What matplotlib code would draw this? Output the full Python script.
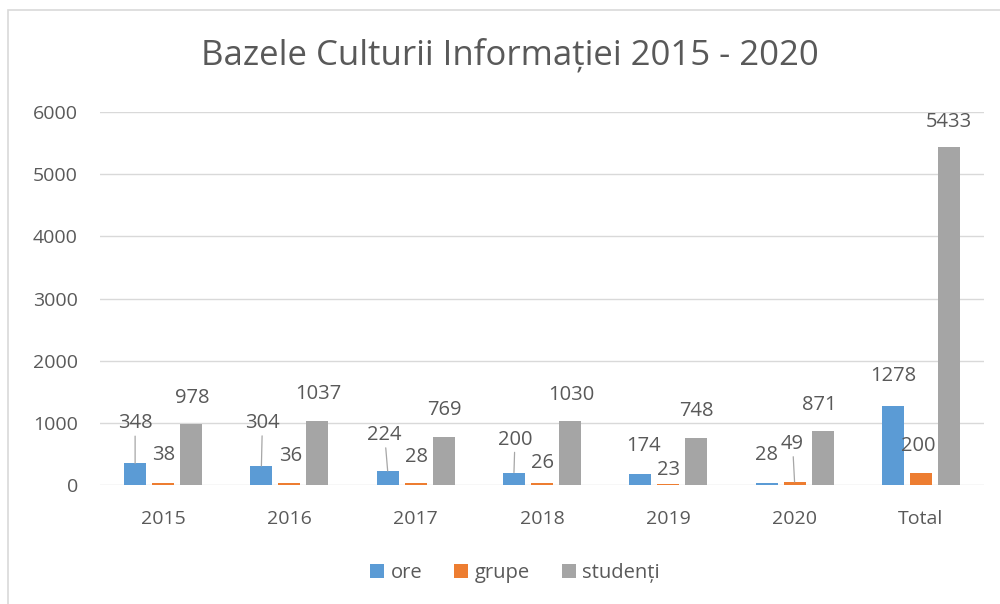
import numpy as np
import matplotlib.pyplot as plt
from matplotlib.patches import Rectangle

plt.rcParams['font.family'] = ['Open Sans', 'DejaVu Sans']

categories = ['2015', '2016', '2017', '2018', '2019', '2020', 'Total']
ore = [348, 304, 224, 200, 174, 28, 1278]
grupe = [38, 36, 28, 26, 23, 49, 200]
studenti = [978, 1037, 769, 1030, 748, 871, 5433]

series = [('ore', ore, '#5B9BD5'),
          ('grupe', grupe, '#ED7D31'),
          ('studenți', studenti, '#A5A5A5')]

# label offsets (pixels) from bar top, as placed in the original
label_offsets = {
    'ore': [(0, 40), (1, 43), (-3, 36), (1, 33), (3, 28), (0, 28), (0, 30)],
    'grupe': [(0, 28), (1, 27), (1, 26), (1, 20), (0, 14), (-2, 38), (-3, 27)],
    'studenți': [(1, 26), (1, 27), (1, 27), (1, 26), (0, 27), (-3, 26), (0, 25)],
}
leaders = {('ore', 0), ('ore', 1), ('ore', 2), ('ore', 3), ('grupe', 5)}

text_color = '#595959'
fig = plt.figure(figsize=(10, 6.04), dpi=100)
fig.patch.set_facecolor('white')
fig.patches.append(Rectangle((0.008, -0.1), 1.2, 1.1 - 10 / 604, transform=fig.transFigure,
                             fill=False, edgecolor='#D9D9D9', lw=1.2))

ax = fig.add_axes([0.100, 1 - 485 / 604, 0.884, (485 - 112) / 604])
x = np.arange(len(categories))
width = 0.174
step = 0.222

for i, (name, vals, color) in enumerate(series):
    pos = x + (i - 1) * step
    ax.bar(pos, vals, width, color=color, label=name, zorder=3)
    for j, (px, v) in enumerate(zip(pos, vals)):
        dx, dy = label_offsets[name][j]
        kw = {}
        if (name, j) in leaders:
            kw['arrowprops'] = dict(arrowstyle='-', color='#A6A6A6', lw=0.9,
                                    shrinkA=0, shrinkB=0)
        ax.annotate(str(v), xy=(px, v), xytext=(dx, dy), textcoords='offset pixels',
                    ha='center', va='center', fontsize=14.5, color=text_color,
                    zorder=4, **kw)

ax.set_xlim(-0.5, len(categories) - 0.5)
ax.set_ylim(0, 6000)
ax.set_yticks(np.arange(0, 6001, 1000))
ax.set_xticks(x)
ax.set_xticklabels(categories)
ax.grid(axis='y', color='#D9D9D9', lw=1, zorder=0)
for s in ax.spines.values():
    s.set_visible(False)
ax.tick_params(axis='both', length=0, labelsize=14, labelcolor=text_color)
ax.tick_params(axis='y', pad=16)
ax.tick_params(axis='x', pad=18)

fig.text(0.51, 1 - 55 / 604, 'Bazele Culturii Informației 2015 - 2020',
         ha='center', va='center', fontsize=25, color=text_color)

fig.legend(loc='center', bbox_to_anchor=(0.515, 1 - 573 / 604), ncol=3, frameon=False,
           fontsize=14.5, handlelength=0.7, handleheight=0.7, handletextpad=0.3,
           columnspacing=1.6, labelcolor=text_color)

fig.savefig('out.png', dpi=100)
